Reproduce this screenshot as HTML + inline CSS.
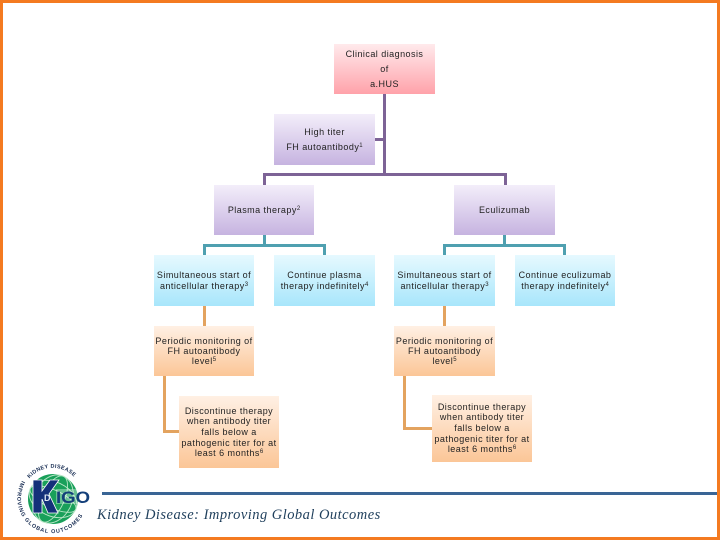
<!DOCTYPE html>
<html><head><meta charset="utf-8">
<style>
html,body{margin:0;padding:0}
body{width:720px;height:540px;position:relative;overflow:hidden;background:#fff;font-family:"Liberation Sans",sans-serif}
.frame{position:absolute;left:0;top:0;width:714px;height:534px;border:3px solid #f47a20}
.b{position:absolute;box-sizing:border-box;color:#222;font-size:9px;letter-spacing:.46px;text-align:center}
.b div{position:absolute;left:-10px;right:-10px;white-space:nowrap;transform:translateY(1px)}
sup{font-size:6px;line-height:0;vertical-align:3px;letter-spacing:0}
.pk{background:linear-gradient(#ffeaec,#ffa2aa)}
.pu{background:linear-gradient(#f3eefa,#c6b3e0)}
.bl{background:linear-gradient(#e6f9ff,#a8e6fb)}
.or{background:linear-gradient(#fff0e4,#fbc697)}
.l{position:absolute}
.p{background:#7d6396}.t{background:#4fa0b0}.o{background:#e3a35f}
.tag{position:absolute;left:97px;top:507px;font-family:"Liberation Serif",serif;font-style:italic;font-size:14.5px;letter-spacing:.47px;color:#1f3f5c;white-space:nowrap}
</style></head><body>
<div class="frame"></div>

<div class="l p" style="left:383px;top:94px;width:3px;height:81px"></div>
<div class="l p" style="left:375px;top:138px;width:9px;height:3px"></div>
<div class="l p" style="left:263px;top:173px;width:243px;height:3px"></div>
<div class="l p" style="left:263px;top:173px;width:3px;height:12px"></div>
<div class="l p" style="left:504px;top:173px;width:3px;height:12px"></div>

<div class="l t" style="left:263px;top:235px;width:3px;height:10px"></div>
<div class="l t" style="left:203px;top:244px;width:123px;height:3px"></div>
<div class="l t" style="left:203px;top:244px;width:3px;height:11px"></div>
<div class="l t" style="left:323px;top:244px;width:3px;height:11px"></div>
<div class="l t" style="left:503px;top:235px;width:3px;height:10px"></div>
<div class="l t" style="left:443px;top:244px;width:123px;height:3px"></div>
<div class="l t" style="left:443px;top:244px;width:3px;height:11px"></div>
<div class="l t" style="left:563px;top:244px;width:3px;height:11px"></div>

<div class="l o" style="left:203px;top:306px;width:3px;height:20px"></div>
<div class="l o" style="left:163px;top:376px;width:3px;height:57px"></div>
<div class="l o" style="left:163px;top:430px;width:16px;height:3px"></div>
<div class="l o" style="left:443px;top:306px;width:3px;height:20px"></div>
<div class="l o" style="left:403px;top:376px;width:3px;height:54px"></div>
<div class="l o" style="left:403px;top:427px;width:29px;height:3px"></div>

<div class="b pk" style="left:334px;top:44px;width:101px;height:50px"><div style="top:4px">Clinical diagnosis</div><div style="top:19px">of</div><div style="top:34px">a.HUS</div></div>
<div class="b pu" style="left:274px;top:114px;width:101px;height:51px"><div style="top:12px">High titer</div><div style="top:27px">FH autoantibody<sup>1</sup></div></div>
<div class="b pu" style="left:214px;top:185px;width:100px;height:50px"><div style="top:19px">Plasma therapy<sup>2</sup></div></div>
<div class="b pu" style="left:454px;top:185px;width:101px;height:50px"><div style="top:19px">Eculizumab</div></div>

<div class="b bl" style="left:154px;top:255px;width:100px;height:51px"><div style="top:14px">Simultaneous start of</div><div style="top:25px">anticellular therapy<sup>3</sup></div></div>
<div class="b bl" style="left:274px;top:255px;width:101px;height:51px"><div style="top:14px">Continue plasma</div><div style="top:25px">therapy indefinitely<sup>4</sup></div></div>
<div class="b bl" style="left:394px;top:255px;width:101px;height:51px"><div style="top:14px">Simultaneous start of</div><div style="top:25px">anticellular therapy<sup>3</sup></div></div>
<div class="b bl" style="left:515px;top:255px;width:100px;height:51px"><div style="top:14px">Continue eculizumab</div><div style="top:25px">therapy indefinitely<sup>4</sup></div></div>

<div class="b or" style="left:154px;top:326px;width:100px;height:50px"><div style="top:9px">Periodic monitoring of</div><div style="top:19px">FH autoantibody</div><div style="top:29px">level<sup>5</sup></div></div>
<div class="b or" style="left:394px;top:326px;width:101px;height:50px"><div style="top:9px">Periodic monitoring of</div><div style="top:19px">FH autoantibody</div><div style="top:29px">level<sup>5</sup></div></div>

<div class="b or" style="left:179px;top:396px;width:100px;height:72px"><div style="top:9px">Discontinue therapy</div><div style="top:19px">when antibody titer</div><div style="top:30px">falls below a</div><div style="top:41px">pathogenic titer for at</div><div style="top:51px">least 6 months<sup>6</sup></div></div>
<div class="b or" style="left:432px;top:395px;width:100px;height:67px"><div style="top:6px">Discontinue therapy</div><div style="top:16px">when antibody titer</div><div style="top:27px">falls below a</div><div style="top:38px">pathogenic titer for at</div><div style="top:48px">least 6 months<sup>6</sup></div></div>

<div class="l" style="left:102px;top:492px;width:615px;height:3px;background:#3a6595"></div>
<div class="tag">Kidney Disease: Improving Global Outcomes</div>

<svg class="l" style="left:0;top:460px" width="100" height="75" viewBox="0 0 100 75">
<defs>
<path id="top" d="M29.5 18.5 A30 30 0 0 1 75.5 18.5"/>
<path id="bot" d="M22 20.5 A35 35 0 1 0 85.5 49"/>
</defs>
<circle cx="53" cy="39" r="25" fill="#19a05a"/>
<g fill="none" stroke="#b8e6c6" stroke-width=".9">
<ellipse cx="53" cy="39" rx="11" ry="25" transform="rotate(25 53 39)"/>
<ellipse cx="53" cy="39" rx="19" ry="25" transform="rotate(25 53 39)"/>
<ellipse cx="53" cy="39" rx="25" ry="9" transform="rotate(25 53 39)"/>
<ellipse cx="53" cy="39" rx="25" ry="17" transform="rotate(25 53 39)"/>
</g>
<path d="M33 20h9v11l8-11h9l-10 14 9 19h-10l-6-14v14h-9z" fill="#14307a" stroke="#fff" stroke-width=".8"/>
<text x="44" y="41" font-family="Liberation Sans,sans-serif" font-size="9" font-weight="bold" fill="#dfe8f5">D</text>
<rect x="56" y="29" width="34" height="15" fill="#fff" opacity=".35"/>
<text x="56" y="43" font-family="Liberation Sans,sans-serif" font-size="17" font-weight="bold" fill="#14407a" textLength="34" lengthAdjust="spacingAndGlyphs">IGO</text>
<text font-family="Liberation Sans,sans-serif" font-size="5.5" font-weight="bold" fill="#1a2f55"><textPath href="#top" textLength="50">KIDNEY DISEASE</textPath></text>
<text font-family="Liberation Sans,sans-serif" font-size="5.5" font-weight="bold" fill="#1a2f55"><textPath href="#bot" textLength="110">IMPROVING GLOBAL OUTCOMES</textPath></text>
</svg>
</body></html>
